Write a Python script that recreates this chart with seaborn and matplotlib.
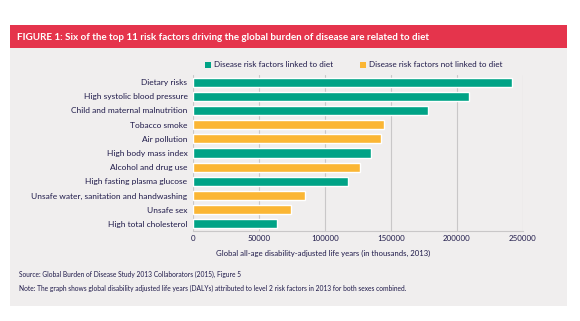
import matplotlib
matplotlib.use("Agg")
import matplotlib.pyplot as plt
import seaborn as sns
import pandas as pd
from matplotlib.patches import Rectangle

categories = ["Dietary risks", "High systolic blood pressure", "Child and maternal malnutrition",
              "Tobacco smoke", "Air pollution", "High body mass index", "Alcohol and drug use",
              "High fasting plasma glucose", "Unsafe water, sanitation and handwashing",
              "Unsafe sex", "High total cholesterol"]
values = [242000, 209000, 178000, 144500, 142400, 134600, 126500, 117200, 84800, 74200, 63600]
groups = ["Disease risk factors linked to diet", "Disease risk factors linked to diet",
          "Disease risk factors linked to diet", "Disease risk factors not linked to diet",
          "Disease risk factors not linked to diet", "Disease risk factors linked to diet",
          "Disease risk factors not linked to diet", "Disease risk factors linked to diet",
          "Disease risk factors not linked to diet", "Disease risk factors not linked to diet",
          "Disease risk factors linked to diet"]
xticks = [0, 50000, 100000, 150000, 200000, 250000]

title = "FIGURE 1: Six of the top 11 risk factors driving the global burden of disease are related to diet"
xlabel = "Global all-age disability-adjusted life years (in thousands, 2013)"
source = "Source: Global Burden of Disease Study 2013 Collaborators (2015), Figure 5"
note = "Note: The graph shows global disability adjusted life years (DALYs) attributed to level 2 risk factors in 2013 for both sexes combined."

TEAL = "#00a386"
ORANGE = "#fbb634"
RED = "#e5344c"
PANEL = "#f0eeee"
TEXT = "#1f1a4a"

sns.set_theme(style="white")
plt.rcParams["font.family"] = ["Lato", "DejaVu Sans"]

df = pd.DataFrame({"category": categories, "value": values, "group": groups})

W, H = 580, 321
fig = plt.figure(figsize=(W / 100, H / 100), dpi=100)
fig.patch.set_facecolor("white")

# panel background and title band
fig.add_artist(Rectangle((10 / W, 1 - 306 / H), 557 / W, 258 / H, transform=fig.transFigure,
                         facecolor=PANEL, edgecolor="none", zorder=0))
fig.add_artist(Rectangle((10 / W, 1 - 48 / H), 557 / W, 23 / H, transform=fig.transFigure,
                         facecolor=RED, edgecolor="none", zorder=0))
fig.text(17 / W, 1 - 37 / H, title, color="white", fontsize=7.1, fontweight="bold",
         va="center", ha="left", family=["Lato", "DejaVu Sans"])

ax = fig.add_axes([193 / W, 1 - 231 / H, 330 / W, 156 / H])
ax.set_facecolor("none")
sns.barplot(data=df, y="category", x="value", hue="group", dodge=False, ax=ax,
            palette={"Disease risk factors linked to diet": TEAL,
                     "Disease risk factors not linked to diet": ORANGE},
            width=0.64, saturation=1, legend=False, zorder=3)
ax.set_xlim(0, 250000)
ax.set_ylim(10.5, -0.5)
ax.set_xticks(xticks)
ax.set_xticklabels([str(t) for t in xticks], fontsize=5.7, color=TEXT)
ax.tick_params(axis="y", labelsize=6.0, labelcolor=TEXT, length=0, pad=4)
ax.tick_params(axis="x", length=0, pad=3)
ax.set_ylabel("")
ax.set_xlabel("")
ax.grid(axis="x", color="#c9c7c8", linewidth=0.8, zorder=0)
ax.set_axisbelow(True)
for s in ["top", "right", "left"]:
    ax.spines[s].set_visible(False)
ax.spines["bottom"].set_color("#c9c7c8")
ax.spines["bottom"].set_linewidth(0.8)

# legend
fig.add_artist(Rectangle((205 / W, 1 - 67.5 / H), 6 / W, 6 / H, transform=fig.transFigure,
                         facecolor=TEAL, edgecolor="none"))
fig.text(214 / W, 1 - 64.5 / H, "Disease risk factors linked to diet", fontsize=5.9,
         color=TEXT, va="center", ha="left")
fig.add_artist(Rectangle((360 / W, 1 - 67.5 / H), 6 / W, 6 / H, transform=fig.transFigure,
                         facecolor=ORANGE, edgecolor="none"))
fig.text(369 / W, 1 - 64.5 / H, "Disease risk factors not linked to diet", fontsize=5.9,
         color=TEXT, va="center", ha="left")

fig.text(323 / W, 1 - 253 / H, xlabel, fontsize=5.6, color=TEXT, ha="center", va="center")
fig.text(19 / W, 1 - 274 / H, source, fontsize=4.8, color=TEXT, ha="left", va="center")
fig.text(19 / W, 1 - 288 / H, note, fontsize=4.8, color=TEXT, ha="left", va="center")

fig.savefig("out.png", dpi=100)
